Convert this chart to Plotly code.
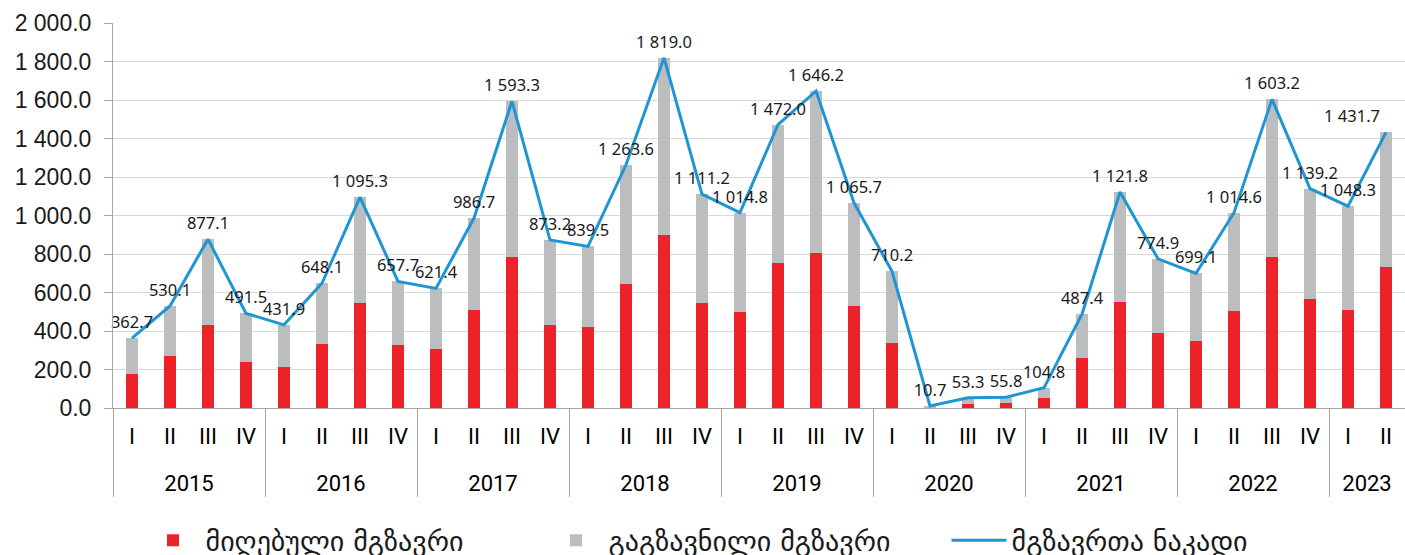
import plotly.graph_objects as go

year_names = ["2015", "2016", "2017", "2018", "2019", "2020", "2021", "2022", "2023"]
quarters_per_year = [4, 4, 4, 4, 4, 4, 4, 4, 2]
quarter_names = ["I", "II", "III", "IV"]

received = [175, 269, 433, 240, 212, 334, 543, 326, 307, 507, 785, 430, 420, 642, 901, 545,
            498, 753, 807, 528, 340, 5, 21, 24, 52, 259, 549, 389, 346, 504, 785, 564, 511, 733]
departed = [187.7, 261.1, 444.1, 251.5, 219.9, 314.1, 552.3, 331.7, 314.4, 479.7, 808.3, 443.2,
            419.5, 621.6, 918.0, 566.2, 516.8, 719.0, 839.2, 537.7, 370.2, 5.7, 32.3, 31.8,
            52.8, 228.4, 572.8, 385.9, 353.1, 510.6, 818.2, 575.2, 537.3, 698.7]
total = [362.7, 530.1, 877.1, 491.5, 431.9, 648.1, 1095.3, 657.7, 621.4, 986.7, 1593.3, 873.2,
         839.5, 1263.6, 1819.0, 1111.2, 1014.8, 1472.0, 1646.2, 1065.7, 710.2, 10.7, 53.3, 55.8,
         104.8, 487.4, 1121.8, 774.9, 699.1, 1014.6, 1603.2, 1139.2, 1048.3, 1431.7]

names = ["მიღებული მგზავრი", "გაგზავნილი მგზავრი", "მგზავრთა ნაკადი"]

# multicategory x: year level (pushed one line down) and quarter level
years = []
quarters = []
for yname, n in zip(year_names, quarters_per_year):
    years += ["<br>" + yname] * n
    quarters += quarter_names[:n]
x = [years, quarters]

FONT = "Noto Sans, DejaVu Sans, sans-serif"
label_pos = ["top center"] * (len(total) - 1) + ["top left"]

fig = go.Figure()
fig.add_trace(go.Bar(x=x, y=received, name=names[0], marker_color="#EE2229",
                     marker_line_width=0))
fig.add_trace(go.Bar(x=x, y=departed, name=names[1], marker_color="#BCBDBF",
                     marker_line_width=0))
fig.add_trace(go.Scatter(x=x, y=total, name=names[2], mode="lines+markers+text",
                         line=dict(color="#1F96D3", width=3),
                         marker=dict(size=8, color="rgba(0,0,0,0)"),
                         text=total, texttemplate="%{y:,.1f}", textposition=label_pos,
                         textfont=dict(size=16.5, color="#1a1a1a", family=FONT),
                         cliponaxis=False))

fig.update_layout(
    width=1405, height=555,
    margin=dict(l=113, r=0, t=23, b=147),
    barmode="stack", bargap=0.68,
    separators=". ",
    plot_bgcolor="white", paper_bgcolor="white",
    font=dict(family=FONT, color="#1a1a1a"),
    showlegend=True,
    legend=dict(orientation="h", x=0.1, xref="container", xanchor="left",
                y=0.026, yref="container", yanchor="middle",
                font=dict(size=28, color="#1a1a1a", family="DejaVu Sans"),
                entrywidth=333, itemwidth=55, traceorder="normal"),
)
fig.update_yaxes(range=[0, 2000], dtick=200, tickformat=",.1f", automargin=False,
                 showgrid=True, gridcolor="#D9D9D9", gridwidth=1,
                 showline=True, linecolor="#A6A6A6", linewidth=1,
                 ticks="outside", ticklen=8, tickcolor="#A6A6A6", ticklabelstandoff=8,
                 tickfont=dict(size=23, color="#1a1a1a", family="Liberation Sans"),
                 zeroline=False)
fig.update_xaxes(type="multicategory", showline=True, linecolor="#A6A6A6", linewidth=1,
                 showdividers=True, dividercolor="#A6A6A6", dividerwidth=1,
                 automargin=False, ticklabelstandoff=9,
                 ticks="", tickfont=dict(size=22, color="#000000", family="Roboto"),
                 range=[-0.5, 33.5])

fig.write_html("out.html", config={"displayModeBar": False},
               post_script="document.body.style.margin='0';document.body.style.padding='0';")
